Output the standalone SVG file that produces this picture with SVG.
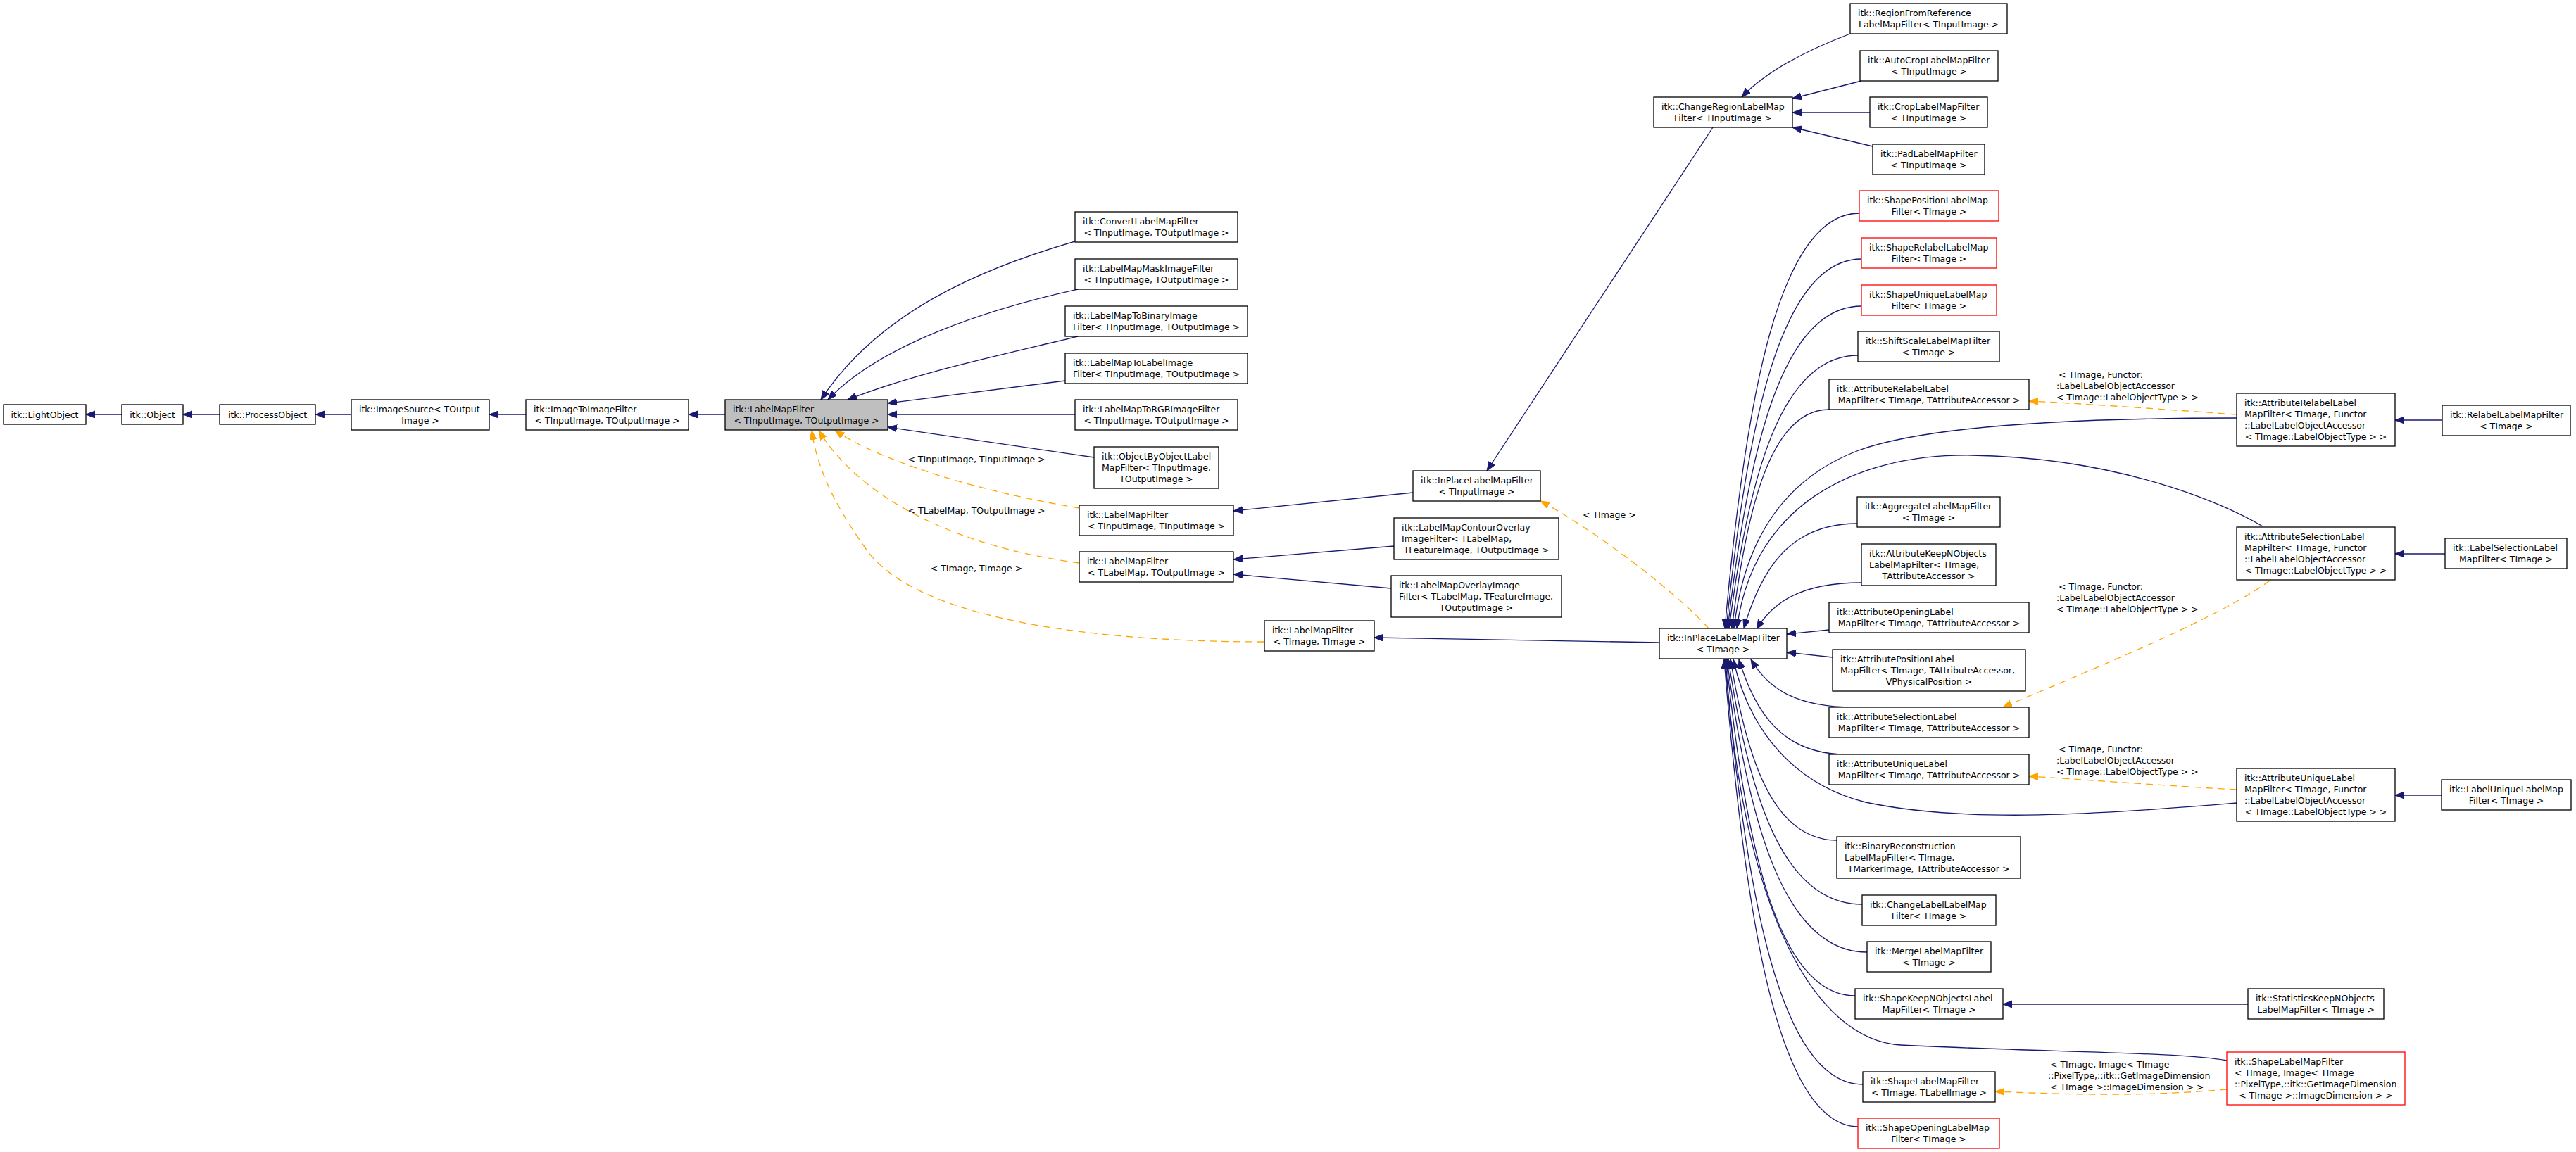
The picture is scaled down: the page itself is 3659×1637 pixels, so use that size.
<svg xmlns="http://www.w3.org/2000/svg" width="3659" height="1637" viewBox="0 0 3659 1637">
<style>
.n rect{fill:#fff;stroke:#000;stroke-width:1.3}
.n.r rect{stroke:#ff0000}
.n.g rect{fill:#bfbfbf}
text{font-family:"DejaVu Sans",sans-serif;font-size:12.5px;fill:#000}
.m{text-anchor:middle}
.e{fill:none;stroke:#191970;stroke-width:1.3;marker-end:url(#a)}
.d{fill:none;stroke:#ffa500;stroke-width:1.3;stroke-dasharray:10,7;marker-end:url(#o)}
</style>
<defs>
<marker id="a" markerUnits="userSpaceOnUse" markerWidth="14" markerHeight="11" refX="13" refY="5" orient="auto"><path d="M0,0 L13,5 L0,10 z" fill="#191970" stroke="#191970"/></marker>
<marker id="o" markerUnits="userSpaceOnUse" markerWidth="14" markerHeight="11" refX="13" refY="5" orient="auto"><path d="M0,0 L13,5 L0,10 z" fill="#ffa500" stroke="#ffa500"/></marker>
</defs>
<rect width="3659" height="1637" fill="#fff"/>
<g id="edges">
<path class="e" d="M173,589 L122,589"/>
<path class="e" d="M312,589 L260,589"/>
<path class="e" d="M499,589 L448,589"/>
<path class="e" d="M747,589 L695,589"/>
<path class="e" d="M1030,589 L978,589"/>
<path class="e" d="M1527,343 C1400,380 1250,440 1166,568"/>
<path class="e" d="M1531,411 C1400,440 1250,490 1176,568"/>
<path class="e" d="M1531,478 C1420,505 1300,530 1204,568"/>
<path class="e" d="M1513,541 L1261,573"/>
<path class="e" d="M1527,589 L1261,589"/>
<path class="e" d="M1554,650 L1261,607"/>
<path class="e" d="M2007,700 L1752,726"/>
<path class="e" d="M1980,776 L1752,795"/>
<path class="e" d="M1976,836 L1752,816"/>
<path class="e" d="M2357,913 L1952,906"/>
<path class="e" d="M2433,181 L2112,669"/>
<path class="e" d="M2628,48 C2570,70 2510,100 2474,138"/>
<path class="e" d="M2644,115 L2546,140"/>
<path class="e" d="M2656,160 L2546,160"/>
<path class="e" d="M2660,208 L2546,181"/>
<path class="e" d="M2641,303 C2526,303 2479,569 2450,893"/>
<path class="e" d="M2644,368 C2529,368 2481,604 2452,893"/>
<path class="e" d="M2644,435 C2530,435 2483,641 2454,893"/>
<path class="e" d="M2639,505 C2529,505 2483,680 2456,893"/>
<path class="e" d="M2598,582 C2515,582 2481,722 2460,893"/>
<path class="e" d="M3177,594 C3000,594 2750,600 2640,640 C2540,678 2478,760 2463,893"/>
<path class="e" d="M3214,748 C3150,710 3000,650 2800,647 C2630,645 2490,720 2467,893"/>
<path class="e" d="M2638,744 C2541,744 2501,811 2477,893"/>
<path class="e" d="M2644,828 C2555,828 2517,858 2495,894"/>
<path class="e" d="M2598,895 L2538,901"/>
<path class="e" d="M2603,934 L2538,927"/>
<path class="e" d="M2633,1005 C2545,1005 2509,974 2487,937"/>
<path class="e" d="M2623,1072 C2531,1072 2493,1012 2470,937"/>
<path class="e" d="M3177,1141 C3000,1155 2800,1172 2650,1140 C2550,1115 2485,1040 2462,937"/>
<path class="e" d="M2609,1194 C2518,1194 2481,1078 2458,937"/>
<path class="e" d="M2645,1285 C2531,1285 2484,1128 2455,937"/>
<path class="e" d="M2652,1353 C2533,1353 2483,1166 2453,937"/>
<path class="e" d="M2635,1415 C2525,1415 2479,1200 2452,937"/>
<path class="e" d="M3163,1507 C3100,1495 2900,1495 2700,1485 C2580,1478 2475,1300 2451,937"/>
<path class="e" d="M2646,1541 C2528,1541 2479,1269 2450,937"/>
<path class="e" d="M2640,1601 C2525,1601 2478,1302 2449,937"/>
<path class="e" d="M3469,597 L3402,597"/>
<path class="e" d="M3473,787 L3402,787"/>
<path class="e" d="M3468,1130 L3402,1130"/>
<path class="e" d="M3193,1427 L2845,1427"/>
<path class="d" d="M1533,722 C1400,700 1260,660 1186,612"/>
<path class="d" d="M1533,800 C1380,780 1230,720 1163,612"/>
<path class="d" d="M1796,912 C1550,912 1300,880 1230,780 C1180,710 1160,660 1153,612"/>
<path class="d" d="M2427,893 C2380,840 2260,750 2188,712"/>
<path class="d" d="M3177,589 C3050,580 2950,573 2882,570"/>
<path class="d" d="M3224,825 C3150,880 2950,960 2845,1005"/>
<path class="d" d="M3177,1122 C3050,1115 2950,1107 2882,1103"/>
<path class="d" d="M3163,1548 C3050,1558 2950,1556 2834,1551"/>
<text class="m" x="1387" y="656.5">&lt; TInputImage, TInputImage &gt;</text>
<text class="m" x="1387" y="729.5">&lt; TLabelMap, TOutputImage &gt;</text>
<text class="m" x="1387" y="811.5">&lt; TImage, TImage &gt;</text>
<text x="2248" y="735.5">&lt; TImage &gt;</text>
<text x="2924" y="536.5">&lt; TImage, Functor:</text>
<text x="2921" y="552.5">:LabelLabelObjectAccessor</text>
<text x="2921" y="568.5">&lt; TImage::LabelObjectType &gt; &gt;</text>
<text x="2924" y="837.5">&lt; TImage, Functor:</text>
<text x="2921" y="853.5">:LabelLabelObjectAccessor</text>
<text x="2921" y="869.5">&lt; TImage::LabelObjectType &gt; &gt;</text>
<text x="2924" y="1068.5">&lt; TImage, Functor:</text>
<text x="2921" y="1084.5">:LabelLabelObjectAccessor</text>
<text x="2921" y="1100.5">&lt; TImage::LabelObjectType &gt; &gt;</text>
<text x="2912" y="1516.5">&lt; TImage, Image&lt; TImage</text>
<text x="2909" y="1532.5">::PixelType,::itk::GetImageDimension</text>
<text x="2912" y="1548.5">&lt; TImage &gt;::ImageDimension &gt; &gt;</text>
</g>
<g id="n1" class="n"><rect x="5" y="575" width="117" height="28"/><text class="m" x="63.5" y="593.5">itk::LightObject</text></g>
<g id="n2" class="n"><rect x="173" y="575" width="87" height="28"/><text class="m" x="216.5" y="593.5">itk::Object</text></g>
<g id="n3" class="n"><rect x="312" y="575" width="136" height="28"/><text class="m" x="380" y="593.5">itk::ProcessObject</text></g>
<g id="n4" class="n"><rect x="499" y="568" width="196" height="43"/><text x="510" y="586">itk::ImageSource&lt; TOutput</text><text class="m" x="597" y="602">Image &gt;</text></g>
<g id="n5" class="n"><rect x="747" y="568" width="231" height="43"/><text x="758" y="586">itk::ImageToImageFilter</text><text class="m" x="862.5" y="602">&lt; TInputImage, TOutputImage &gt;</text></g>
<g id="n6" class="n g"><rect x="1030" y="568" width="231" height="43"/><text x="1041" y="586">itk::LabelMapFilter</text><text class="m" x="1145.5" y="602">&lt; TInputImage, TOutputImage &gt;</text></g>
<g id="n7" class="n"><rect x="1527" y="301" width="231" height="43"/><text x="1538" y="319">itk::ConvertLabelMapFilter</text><text class="m" x="1642.5" y="335">&lt; TInputImage, TOutputImage &gt;</text></g>
<g id="n8" class="n"><rect x="1527" y="368" width="231" height="43"/><text x="1538" y="386">itk::LabelMapMaskImageFilter</text><text class="m" x="1642.5" y="402">&lt; TInputImage, TOutputImage &gt;</text></g>
<g id="n9" class="n"><rect x="1513" y="435" width="259" height="43"/><text x="1524" y="453">itk::LabelMapToBinaryImage</text><text class="m" x="1642.5" y="469">Filter&lt; TInputImage, TOutputImage &gt;</text></g>
<g id="n10" class="n"><rect x="1513" y="502" width="259" height="43"/><text x="1524" y="520">itk::LabelMapToLabelImage</text><text class="m" x="1642.5" y="536">Filter&lt; TInputImage, TOutputImage &gt;</text></g>
<g id="n11" class="n"><rect x="1527" y="568" width="231" height="43"/><text x="1538" y="586">itk::LabelMapToRGBImageFilter</text><text class="m" x="1642.5" y="602">&lt; TInputImage, TOutputImage &gt;</text></g>
<g id="n12" class="n"><rect x="1554" y="635" width="177" height="59"/><text x="1565" y="653">itk::ObjectByObjectLabel</text><text x="1565" y="669">MapFilter&lt; TInputImage,</text><text class="m" x="1642.5" y="685">TOutputImage &gt;</text></g>
<g id="n13" class="n"><rect x="1533" y="718" width="219" height="43"/><text x="1544" y="736">itk::LabelMapFilter</text><text class="m" x="1642.5" y="752">&lt; TInputImage, TInputImage &gt;</text></g>
<g id="n14" class="n"><rect x="1533" y="784" width="219" height="43"/><text x="1544" y="802">itk::LabelMapFilter</text><text class="m" x="1642.5" y="818">&lt; TLabelMap, TOutputImage &gt;</text></g>
<g id="n15" class="n"><rect x="1796" y="882" width="156" height="43"/><text x="1807" y="900">itk::LabelMapFilter</text><text class="m" x="1874" y="916">&lt; TImage, TImage &gt;</text></g>
<g id="n16" class="n"><rect x="2007" y="669" width="181" height="43"/><text x="2018" y="687">itk::InPlaceLabelMapFilter</text><text class="m" x="2097.5" y="703">&lt; TInputImage &gt;</text></g>
<g id="n17" class="n"><rect x="1980" y="736" width="234" height="59"/><text x="1991" y="754">itk::LabelMapContourOverlay</text><text x="1991" y="770">ImageFilter&lt; TLabelMap,</text><text class="m" x="2097" y="786">TFeatureImage, TOutputImage &gt;</text></g>
<g id="n18" class="n"><rect x="1976" y="818" width="242" height="59"/><text x="1987" y="836">itk::LabelMapOverlayImage</text><text x="1987" y="852">Filter&lt; TLabelMap, TFeatureImage,</text><text class="m" x="2097" y="868">TOutputImage &gt;</text></g>
<g id="n19" class="n"><rect x="2349" y="138" width="197" height="43"/><text x="2360" y="156">itk::ChangeRegionLabelMap</text><text class="m" x="2447.5" y="172">Filter&lt; TInputImage &gt;</text></g>
<g id="n20" class="n"><rect x="2357" y="893" width="181" height="43"/><text x="2368" y="911">itk::InPlaceLabelMapFilter</text><text class="m" x="2447.5" y="927">&lt; TImage &gt;</text></g>
<g id="n21" class="n"><rect x="2628" y="5" width="223" height="43"/><text x="2639" y="23">itk::RegionFromReference</text><text class="m" x="2739.5" y="39">LabelMapFilter&lt; TInputImage &gt;</text></g>
<g id="n22" class="n"><rect x="2642" y="72" width="196" height="43"/><text x="2653" y="90">itk::AutoCropLabelMapFilter</text><text class="m" x="2740" y="106">&lt; TInputImage &gt;</text></g>
<g id="n23" class="n"><rect x="2656" y="138" width="167" height="43"/><text x="2667" y="156">itk::CropLabelMapFilter</text><text class="m" x="2739.5" y="172">&lt; TInputImage &gt;</text></g>
<g id="n24" class="n"><rect x="2660" y="205" width="159" height="43"/><text x="2671" y="223">itk::PadLabelMapFilter</text><text class="m" x="2739.5" y="239">&lt; TInputImage &gt;</text></g>
<g id="n25" class="n r"><rect x="2641" y="271" width="198" height="43"/><text x="2652" y="289">itk::ShapePositionLabelMap</text><text class="m" x="2740" y="305">Filter&lt; TImage &gt;</text></g>
<g id="n26" class="n r"><rect x="2644" y="338" width="192" height="43"/><text x="2655" y="356">itk::ShapeRelabelLabelMap</text><text class="m" x="2740" y="372">Filter&lt; TImage &gt;</text></g>
<g id="n27" class="n r"><rect x="2644" y="405" width="192" height="43"/><text x="2655" y="423">itk::ShapeUniqueLabelMap</text><text class="m" x="2740" y="439">Filter&lt; TImage &gt;</text></g>
<g id="n28" class="n"><rect x="2639" y="471" width="201" height="43"/><text x="2650" y="489">itk::ShiftScaleLabelMapFilter</text><text class="m" x="2739.5" y="505">&lt; TImage &gt;</text></g>
<g id="n29" class="n"><rect x="2598" y="539" width="284" height="43"/><text x="2609" y="557">itk::AttributeRelabelLabel</text><text class="m" x="2740" y="573">MapFilter&lt; TImage, TAttributeAccessor &gt;</text></g>
<g id="n31" class="n"><rect x="2638" y="706" width="203" height="43"/><text x="2649" y="724">itk::AggregateLabelMapFilter</text><text class="m" x="2739.5" y="740">&lt; TImage &gt;</text></g>
<g id="n32" class="n"><rect x="2644" y="773" width="191" height="59"/><text x="2655" y="791">itk::AttributeKeepNObjects</text><text x="2655" y="807">LabelMapFilter&lt; TImage,</text><text class="m" x="2739.5" y="823">TAttributeAccessor &gt;</text></g>
<g id="n33" class="n"><rect x="2598" y="856" width="284" height="43"/><text x="2609" y="874">itk::AttributeOpeningLabel</text><text class="m" x="2740" y="890">MapFilter&lt; TImage, TAttributeAccessor &gt;</text></g>
<g id="n34" class="n"><rect x="2603" y="923" width="274" height="59"/><text x="2614" y="941">itk::AttributePositionLabel</text><text x="2614" y="957">MapFilter&lt; TImage, TAttributeAccessor,</text><text class="m" x="2740" y="973">VPhysicalPosition &gt;</text></g>
<g id="n35" class="n"><rect x="2598" y="1005" width="284" height="43"/><text x="2609" y="1023">itk::AttributeSelectionLabel</text><text class="m" x="2740" y="1039">MapFilter&lt; TImage, TAttributeAccessor &gt;</text></g>
<g id="n37" class="n"><rect x="2598" y="1072" width="284" height="43"/><text x="2609" y="1090">itk::AttributeUniqueLabel</text><text class="m" x="2740" y="1106">MapFilter&lt; TImage, TAttributeAccessor &gt;</text></g>
<g id="n39" class="n"><rect x="2609" y="1189" width="261" height="59"/><text x="2620" y="1207">itk::BinaryReconstruction</text><text x="2620" y="1223">LabelMapFilter&lt; TImage,</text><text class="m" x="2739.5" y="1239">TMarkerImage, TAttributeAccessor &gt;</text></g>
<g id="n40" class="n"><rect x="2645" y="1272" width="190" height="43"/><text x="2656" y="1290">itk::ChangeLabelLabelMap</text><text class="m" x="2740" y="1306">Filter&lt; TImage &gt;</text></g>
<g id="n41" class="n"><rect x="2652" y="1338" width="176" height="43"/><text x="2663" y="1356">itk::MergeLabelMapFilter</text><text class="m" x="2740" y="1372">&lt; TImage &gt;</text></g>
<g id="n42" class="n"><rect x="2635" y="1405" width="210" height="43"/><text x="2646" y="1423">itk::ShapeKeepNObjectsLabel</text><text class="m" x="2740" y="1439">MapFilter&lt; TImage &gt;</text></g>
<g id="n45" class="n"><rect x="2646" y="1523" width="188" height="43"/><text x="2657" y="1541">itk::ShapeLabelMapFilter</text><text class="m" x="2740" y="1557">&lt; TImage, TLabelImage &gt;</text></g>
<g id="n46" class="n r"><rect x="2639" y="1589" width="201" height="43"/><text x="2650" y="1607">itk::ShapeOpeningLabelMap</text><text class="m" x="2739.5" y="1623">Filter&lt; TImage &gt;</text></g>
<g id="n30" class="n"><rect x="3177" y="559" width="225" height="75"/><text x="3188" y="577">itk::AttributeRelabelLabel</text><text x="3188" y="593">MapFilter&lt; TImage, Functor</text><text x="3188" y="609">::LabelLabelObjectAccessor</text><text class="m" x="3289.5" y="625">&lt; TImage::LabelObjectType &gt; &gt;</text></g>
<g id="n36" class="n"><rect x="3177" y="749" width="225" height="75"/><text x="3188" y="767">itk::AttributeSelectionLabel</text><text x="3188" y="783">MapFilter&lt; TImage, Functor</text><text x="3188" y="799">::LabelLabelObjectAccessor</text><text class="m" x="3289.5" y="815">&lt; TImage::LabelObjectType &gt; &gt;</text></g>
<g id="n38" class="n"><rect x="3177" y="1092" width="225" height="75"/><text x="3188" y="1110">itk::AttributeUniqueLabel</text><text x="3188" y="1126">MapFilter&lt; TImage, Functor</text><text x="3188" y="1142">::LabelLabelObjectAccessor</text><text class="m" x="3289.5" y="1158">&lt; TImage::LabelObjectType &gt; &gt;</text></g>
<g id="n43" class="n"><rect x="3193" y="1405" width="193" height="43"/><text x="3204" y="1423">itk::StatisticsKeepNObjects</text><text class="m" x="3289.5" y="1439">LabelMapFilter&lt; TImage &gt;</text></g>
<g id="n44" class="n r"><rect x="3163" y="1495" width="253" height="75"/><text x="3174" y="1513">itk::ShapeLabelMapFilter</text><text x="3174" y="1529">&lt; TImage, Image&lt; TImage</text><text x="3174" y="1545">::PixelType,::itk::GetImageDimension</text><text class="m" x="3289.5" y="1561">&lt; TImage &gt;::ImageDimension &gt; &gt;</text></g>
<g id="n47" class="n"><rect x="3469" y="576" width="182" height="43"/><text x="3480" y="594">itk::RelabelLabelMapFilter</text><text class="m" x="3560" y="610">&lt; TImage &gt;</text></g>
<g id="n48" class="n"><rect x="3473" y="765" width="173" height="43"/><text x="3484" y="783">itk::LabelSelectionLabel</text><text class="m" x="3559.5" y="799">MapFilter&lt; TImage &gt;</text></g>
<g id="n49" class="n"><rect x="3468" y="1108" width="184" height="43"/><text x="3479" y="1126">itk::LabelUniqueLabelMap</text><text class="m" x="3560" y="1142">Filter&lt; TImage &gt;</text></g>
</svg>
